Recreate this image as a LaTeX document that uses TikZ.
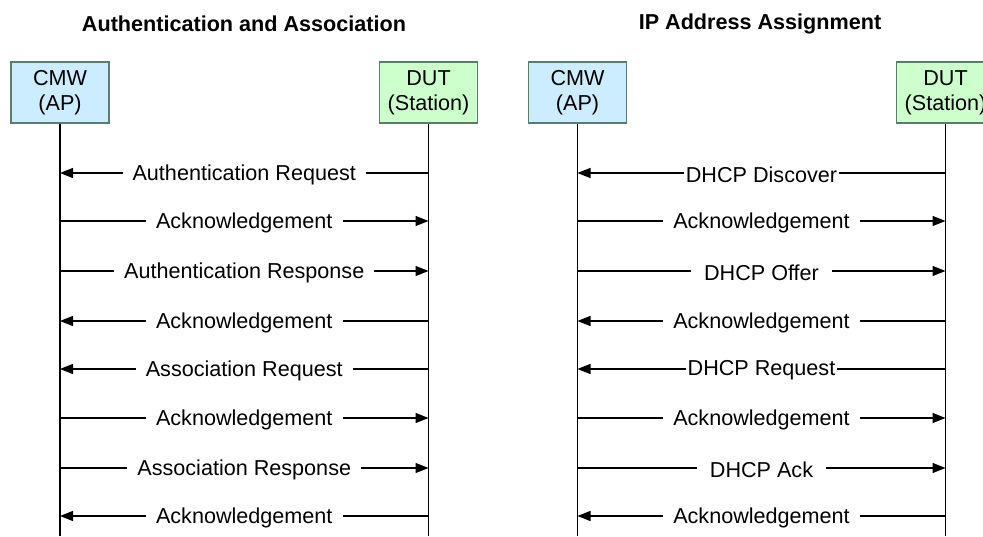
\documentclass[tikz,border=0pt]{standalone}
\usepackage{fontspec}
\setmainfont{Liberation Sans}
\usetikzlibrary{arrows.meta,positioning}
\usepackage{xcolor}
\definecolor{apblue}{HTML}{CCECFF}
\definecolor{stagreen}{HTML}{CCFFCC}
\definecolor{boxedge}{HTML}{5B7B6B}

\begin{document}
\begin{tikzpicture}[x=0.5pt,y=-0.5pt]
      \tikzstyle{entity} = [rectangle, draw=boxedge, line width=0.6pt, minimum width=49pt, minimum height=30.5pt, inner sep=0pt, align=center, font=\fontsize{10.8}{12.5}\selectfont]
      \tikzstyle{lifeline} = [line width=0.6pt]
      \tikzstyle{msg} = [line width=0.6pt, -{Triangle[length=6.5pt,width=5pt]}]
      \tikzstyle{lbl} = [fill=white, inner xsep=5pt, inner ysep=1pt, yshift=-0.8pt, font=\fontsize{10.8}{13}\selectfont]
      \tikzstyle{title} = [font=\bfseries\fontsize{10.8}{13}\selectfont]

      \clip (0,0) rectangle (983,536);

      \node[title] (t1) at (244,24) {Authentication and Association};
      \node[title] (t2) at (760,24) {IP Address Assignment};

      % authentication and association
      \node[entity, fill=apblue] (ap1) at (60,92.5) {CMW\\(AP)};
      \node[entity, fill=stagreen] (sta1) at (428.5,92.5) {DUT\\(Station)};
      \coordinate (ap1end) at (60,536);
      \coordinate (sta1end) at (428.5,536);
      \draw[lifeline] (ap1) -- (ap1end);
      \draw[lifeline] (sta1) -- (sta1end);

      \draw[msg] (sta1 |- 0,173) -- (ap1 |- 0,173) node[midway, lbl] {Authentication Request};
      \draw[msg] (ap1 |- 0,221) -- (sta1 |- 0,221) node[midway, lbl] {Acknowledgement};
      \draw[msg] (ap1 |- 0,271) -- (sta1 |- 0,271) node[midway, lbl] {Authentication Response};
      \draw[msg] (sta1 |- 0,321) -- (ap1 |- 0,321) node[midway, lbl] {Acknowledgement};
      \draw[msg] (sta1 |- 0,369) -- (ap1 |- 0,369) node[midway, lbl] {Association Request};
      \draw[msg] (ap1 |- 0,418) -- (sta1 |- 0,418) node[midway, lbl] {Acknowledgement};
      \draw[msg] (ap1 |- 0,468) -- (sta1 |- 0,468) node[midway, lbl] {Association Response};
      \draw[msg] (sta1 |- 0,516) -- (ap1 |- 0,516) node[midway, lbl] {Acknowledgement};

      % ip address assignment
      \node[entity, fill=apblue] (ap2) at (577.5,92.5) {CMW\\(AP)};
      \node[entity, fill=stagreen] (sta2) at (945.5,92.5) {DUT\\(Station)};
      \coordinate (ap2end) at (577.5,536);
      \coordinate (sta2end) at (945.5,536);
      \draw[lifeline] (ap2) -- (ap2end);
      \draw[lifeline] (sta2) -- (sta2end);

      \draw[msg] (sta2 |- 0,173) -- (ap2 |- 0,173) node[midway, lbl, inner xsep=1pt] {DHCP Discover};
      \draw[msg] (ap2 |- 0,221) -- (sta2 |- 0,221) node[midway, lbl] {Acknowledgement};
      \draw[msg] (ap2 |- 0,271) -- (sta2 |- 0,271) node[midway, lbl, inner xsep=6.5pt] {DHCP Offer};
      \draw[msg] (sta2 |- 0,321) -- (ap2 |- 0,321) node[midway, lbl] {Acknowledgement};
      \draw[msg] (sta2 |- 0,369) -- (ap2 |- 0,369) node[midway, lbl, inner xsep=1pt] {DHCP Request};
      \draw[msg] (ap2 |- 0,418) -- (sta2 |- 0,418) node[midway, lbl] {Acknowledgement};
      \draw[msg] (ap2 |- 0,468) -- (sta2 |- 0,468) node[midway, lbl, inner xsep=6.5pt] {DHCP Ack};
      \draw[msg] (sta2 |- 0,516) -- (ap2 |- 0,516) node[midway, lbl] {Acknowledgement};
\end{tikzpicture}
\end{document}
